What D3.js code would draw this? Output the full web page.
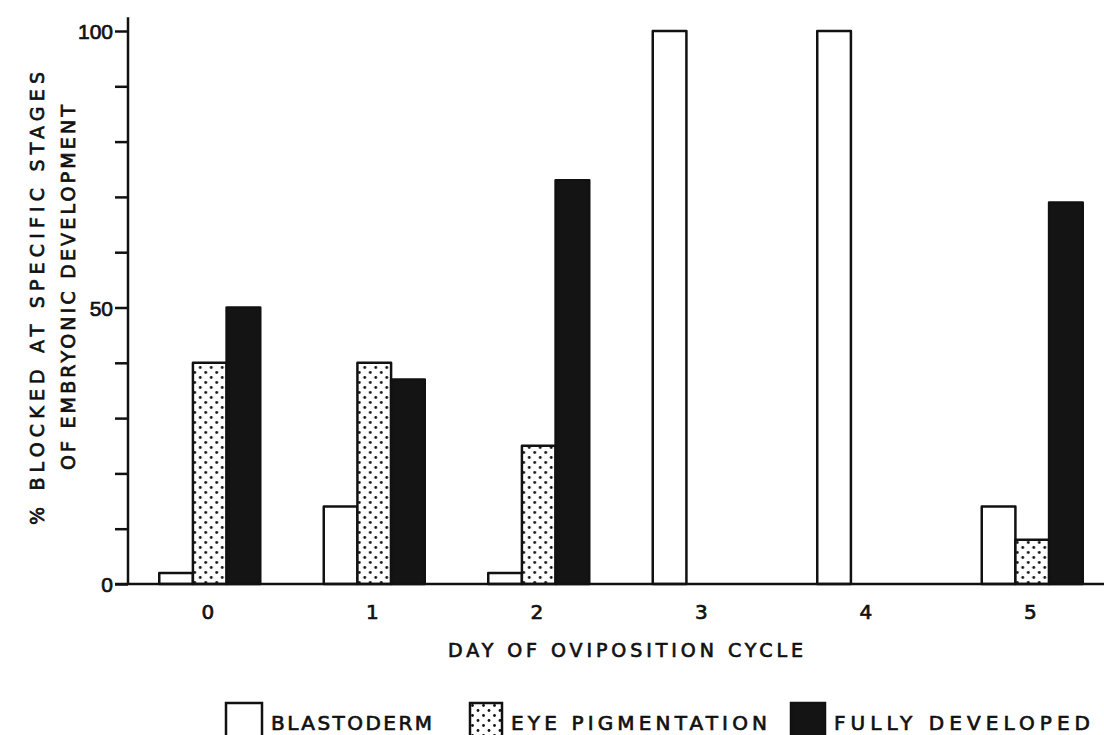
<!DOCTYPE html>
<html>
<head>
<meta charset="utf-8">
<script src="https://cdn.jsdelivr.net/npm/d3@7"></script>
<style>
  body { margin: 0; background: #fff; }
  svg { display: block; font-family: "DejaVu Sans", sans-serif; }
  text { stroke: #111; stroke-width: 0.7px; }
</style>
</head>
<body>
<div id="chart"></div>
<script>
// data
const days = ["0", "1", "2", "3", "4", "5"]
const stages = ["BLASTODERM", "EYE PIGMENTATION", "FULLY DEVELOPED"]
const blastoderm = [2, 14, 2, 100, 100, 14]
const eyePigmentation = [40, 40, 25, 0, 0, 8]
const fullyDeveloped = [50, 37, 73, 0, 0, 69]
const yTicks = [0, 10, 20, 30, 40, 50, 60, 70, 80, 90, 100]
const yLabels = [0, 50, 100]

const width = 1104, height = 735
const margin = {top: 31, left: 128, bottom: 151}

const svg = d3.select("#chart").append("svg")
    .attr("width", width)
    .attr("height", height)

// dotted fill for eye pigmentation
const defs = svg.append("defs")
const pat = defs.append("pattern")
    .attr("id", "dots")
    .attr("patternUnits", "userSpaceOnUse")
    .attr("width", 11).attr("height", 10)
pat.append("rect").attr("width", 11).attr("height", 10).attr("fill", "#fff")
pat.append("circle").attr("cx", 2.5).attr("cy", 2.5).attr("r", 1.4).attr("fill", "#111")
pat.append("circle").attr("cx", 8).attr("cy", 7.5).attr("r", 1.4).attr("fill", "#111")

const fills = {
  "BLASTODERM": "#fff",
  "EYE PIGMENTATION": "url(#dots)",
  "FULLY DEVELOPED": "#141414"
}

const x = d3.scaleBand()
    .domain(days)
    .range([margin.left, 1114])
    .paddingInner(0.386)
    .paddingOuter(0.19)

const xs = d3.scaleBand()
    .domain(stages)
    .range([0, x.bandwidth()])

const y = d3.scaleLinear()
    .domain([0, 100])
    .range([height - margin.bottom, margin.top])

const rows = days.map((d, i) => ({
  day: d,
  values: [
    {key: stages[0], value: blastoderm[i]},
    {key: stages[1], value: eyePigmentation[i]},
    {key: stages[2], value: fullyDeveloped[i]}
  ]
}))

// bars
const group = svg.selectAll("g.day")
  .data(rows)
  .join("g")
    .attr("class", "day")
    .attr("transform", d => `translate(${x(d.day)},0)`)

group.selectAll("rect")
  .data(d => d.values.filter(v => v.value > 0))
  .join("rect")
    .attr("x", d => xs(d.key))
    .attr("width", xs.bandwidth())
    .attr("y", d => y(d.value))
    .attr("height", d => y(0) - y(d.value))
    .attr("fill", d => fills[d.key])
    .attr("stroke", "#111")
    .attr("stroke-width", 2.5)
    .attr("stroke-linejoin", "round")

// y axis
const yAxis = svg.append("g")
    .attr("transform", `translate(${margin.left},0)`)
    .call(d3.axisLeft(y)
      .tickValues(yTicks)
      .tickSize(13)
      .tickPadding(2)
      .tickFormat(d => yLabels.includes(d) ? d : ""))
yAxis.select(".domain").remove()
yAxis.selectAll(".tick line").attr("stroke", "#111").attr("stroke-width", 2.5)
yAxis.selectAll(".tick text")
    .attr("fill", "#111")
    .attr("font-size", 21)
    .attr("dy", "0.36em")
yAxis.append("line")
    .attr("y1", y(0))
    .attr("y2", y(102.5))
    .attr("stroke", "#111")
    .attr("stroke-width", 2.5)

// x axis baseline and day labels
svg.append("line")
    .attr("x1", margin.left - 13)
    .attr("x2", width)
    .attr("y1", y(0))
    .attr("y2", y(0))
    .attr("stroke", "#111")
    .attr("stroke-width", 2.5)

svg.append("g")
  .selectAll("text")
  .data(days)
  .join("text")
    .attr("x", d => x(d) + x.bandwidth() / 2 - 2)
    .attr("y", y(0) + 35)
    .attr("text-anchor", "middle")
    .attr("font-size", 20)
    .attr("fill", "#111")
    .text(d => d)

svg.append("text")
    .attr("x", 448)
    .attr("y", 657)
    .attr("font-size", 19)
    .attr("fill", "#111")
    .attr("textLength", 355)
    .attr("lengthAdjust", "spacing")
    .text("DAY OF OVIPOSITION CYCLE")

// y title, two lines
svg.append("text")
    .attr("transform", "translate(44,525) rotate(-90)")
    .attr("font-size", 19)
    .attr("fill", "#111")
    .attr("textLength", 453)
    .attr("lengthAdjust", "spacing")
    .text("% BLOCKED AT SPECIFIC STAGES")

svg.append("text")
    .attr("transform", "translate(75,470) rotate(-90)")
    .attr("font-size", 19)
    .attr("fill", "#111")
    .attr("textLength", 365)
    .attr("lengthAdjust", "spacing")
    .text("OF EMBRYONIC DEVELOPMENT")

// legend
const legendX = [226, 470, 791]
const legendW = [36, 32, 34]
const legendTextLen = [161, 256, 256]
const legend = svg.append("g")
  .selectAll("g")
  .data(stages)
  .join("g")
    .attr("transform", (d, i) => `translate(${legendX[i]},703)`)

legend.append("rect")
    .attr("width", (d, i) => legendW[i])
    .attr("height", 45)
    .attr("fill", d => fills[d])
    .attr("stroke", "#111")
    .attr("stroke-width", 2.5)

legend.append("text")
    .attr("x", (d, i) => legendW[i] + 9)
    .attr("y", 27)
    .attr("font-size", 20)
    .attr("fill", "#111")
    .attr("textLength", (d, i) => legendTextLen[i])
    .attr("lengthAdjust", "spacing")
    .text(d => d)
</script>
</body>
</html>
